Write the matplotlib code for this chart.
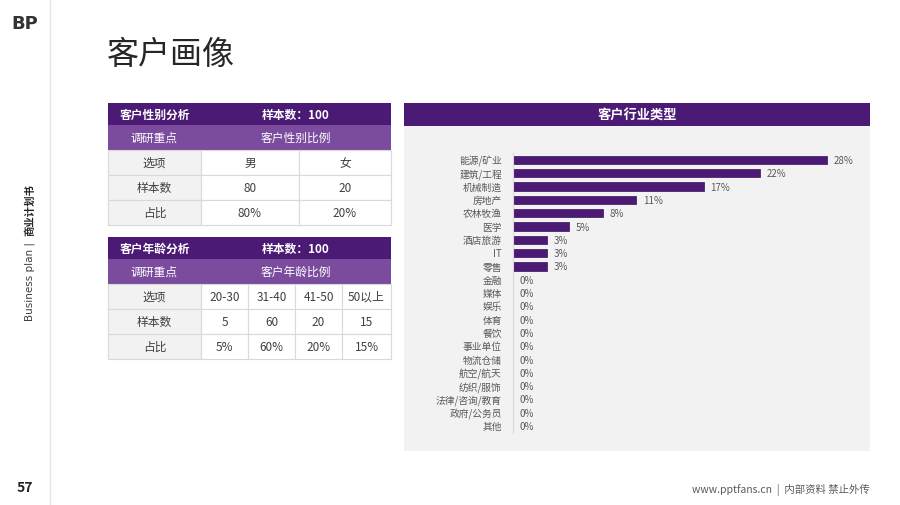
import matplotlib
matplotlib.use("Agg")
import matplotlib.pyplot as plt
from matplotlib.patches import Rectangle

plt.rcParams['font.family'] = ['Noto Sans CJK SC', 'DejaVu Sans']

# ---------------- data ----------------
title = "客户画像"
gender_title = "客户性别分析"
gender_sample = "样本数：100"
gender_focus = "客户性别比例"
gender_options = ["男", "女"]
gender_counts = [80, 20]
gender_pcts = ["80%", "20%"]

age_title = "客户年龄分析"
age_sample = "样本数：100"
age_focus = "客户年龄比例"
age_options = ["20-30", "31-40", "41-50", "50以上"]
age_counts = [5, 60, 20, 15]
age_pcts = ["5%", "60%", "20%", "15%"]

row_labels = ["选项", "样本数", "占比"]

industry_title = "客户行业类型"
industries = ["能源/矿业", "建筑/工程", "机械制造", "房地产", "农林牧渔", "医学", "酒店旅游", "IT", "零售",
              "金融", "媒体", "娱乐", "体育", "餐饮", "事业单位", "物流仓储", "航空/航天", "纺织/服饰",
              "法律/咨询/教育", "政府/公务员", "其他"]
industry_values = [28, 22, 17, 11, 8, 5, 3, 3, 3, 0, 0, 0, 0, 0, 0, 0, 0, 0, 0, 0, 0]

# ---------------- figure ----------------
W, H = 900, 506
fig = plt.figure(figsize=(W / 100, H / 100), dpi=100)
fig.patch.set_facecolor("white")
bg = fig.add_axes([0, 0, 1, 1])
bg.set_xlim(0, W)
bg.set_ylim(H, 0)
bg.axis("off")

DARK = "#4B1A74"
MID = "#7B4C9E"
GRID = "#D9D9D9"
TXT = "#404040"
LIGHT = "#F2F2F2"

# sidebar line
bg.plot([50, 50], [0, H], color="#E6E6E6", lw=1)
# logo
bg.text(11, 24, "BP", fontsize=13, fontweight="bold", color="#333333", va="center", ha="left",
        family="DejaVu Sans")
# title
bg.text(107, 55, title, fontsize=23, color="#262626", va="center", ha="left")
# sidebar text
bg.text(30, 321, "Business plan | ", rotation=90, fontsize=7.5, color="#404040", ha="center", va="bottom",
        family=["DejaVu Sans"])
bg.text(30, 184, "商业计划书", rotation=90, fontsize=7.5, color="#262626", ha="center", va="top",
        fontweight="bold")
bg.text(25, 488, "57", fontsize=10, fontweight="bold", color="#262626", ha="center", va="center")
bg.text(870, 490, "www.pptfans.cn  |  内部资料 禁止外传", fontsize=7.5, color="#595959", ha="right", va="center")


def draw_table(top, col_edges, t_title, t_sample, t_focus, options, counts, pcts):
    x0, x1 = col_edges[0], col_edges[-1]
    h1, h2, hr = 22, 25, 25
    # header
    bg.add_patch(Rectangle((x0, top), x1 - x0, h1, color=DARK, lw=0))
    bg.text((col_edges[0] + col_edges[1]) / 2, top + h1 / 2, t_title, color="white", fontsize=8.5,
            fontweight="bold", ha="center", va="center")
    bg.text((col_edges[1] + x1) / 2, top + h1 / 2, t_sample, color="white", fontsize=8.5,
            fontweight="bold", ha="center", va="center")
    y = top + h1
    bg.add_patch(Rectangle((x0, y), x1 - x0, h2, color=MID, lw=0))
    bg.text((col_edges[0] + col_edges[1]) / 2, y + h2 / 2, "调研重点", color="white", fontsize=8.5,
            ha="center", va="center")
    bg.text((col_edges[1] + x1) / 2, y + h2 / 2, t_focus, color="white", fontsize=8.5,
            ha="center", va="center")
    y += h2
    rows = [options, [str(c) for c in counts], pcts]
    for i, (lab, vals) in enumerate(zip(row_labels, rows)):
        ry = y + i * hr
        bg.add_patch(Rectangle((x0, ry), col_edges[1] - x0, hr, facecolor=LIGHT, edgecolor=GRID, lw=0.8))
        bg.text((col_edges[0] + col_edges[1]) / 2, ry + hr / 2, lab, color=TXT, fontsize=8.5,
                ha="center", va="center")
        for j, v in enumerate(vals):
            cx0, cx1 = col_edges[j + 1], col_edges[j + 2]
            bg.add_patch(Rectangle((cx0, ry), cx1 - cx0, hr, facecolor="white", edgecolor=GRID, lw=0.8))
            bg.text((cx0 + cx1) / 2, ry + hr / 2, v, color=TXT, fontsize=8.5, ha="center", va="center")


draw_table(104, [108, 201, 299, 391], gender_title, gender_sample, gender_focus,
           gender_options, gender_counts, gender_pcts)
draw_table(238, [108, 201, 248, 295, 342, 391], age_title, age_sample, age_focus,
           age_options, age_counts, age_pcts)

# chart panel
bg.add_patch(Rectangle((404, 104), 466, 23, color=DARK, lw=0))
bg.text(637, 115.5, industry_title, color="white", fontsize=9.5, fontweight="bold", ha="center", va="center")
bg.add_patch(Rectangle((404, 127), 466, 325, color=LIGHT, lw=0))

# bar axes
n = len(industries)
step = (427 - 161) / (n - 1)
ax_top = 161 - step / 2
ax_bot = 427 + step / 2
left = 513
px_per = (827 - 513) / 28.0
xmax = 30
ax = fig.add_axes([left / W, 1 - ax_bot / H, xmax * px_per / W, (ax_bot - ax_top) / H])
ax.set_facecolor("none")
ypos = list(range(n))
ax.barh(ypos, industry_values, height=0.62, color=DARK, edgecolor="#3A1060", lw=0.5)
ax.set_xlim(0, xmax)
ax.set_ylim(n - 0.5, -0.5)
ax.set_yticks(ypos)
ax.set_yticklabels(industries, fontsize=7, color="#595959", family="Noto Sans CJK SC")
for lbl in ax.get_yticklabels():
    lbl.set_va("center")
ax.set_xticks([])
ax.tick_params(axis="y", length=0, pad=8)
for s in ["top", "right", "bottom"]:
    ax.spines[s].set_visible(False)
ax.spines["left"].set_color(GRID)
ax.spines["left"].set_linewidth(0.8)
for yv, v in zip(ypos, industry_values):
    ax.annotate(f"{v}%", (v, yv), xytext=(5, 0), textcoords="offset points", fontsize=7,
                color="#595959", va="center", ha="left", family="Noto Sans CJK SC")

fig.savefig("out.png", dpi=100, facecolor="white")
